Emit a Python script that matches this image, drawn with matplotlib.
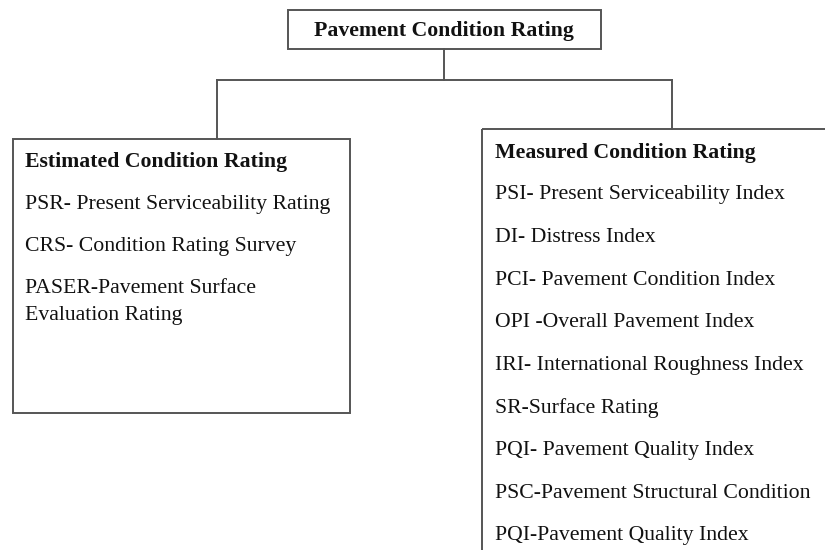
import matplotlib
matplotlib.use("Agg")
import matplotlib.pyplot as plt
from matplotlib.patches import Rectangle

root_label = "Pavement Condition Rating"
left_title = "Estimated Condition Rating"
left_items = ["PSR- Present Serviceability Rating",
              "CRS- Condition Rating Survey",
              "PASER-Pavement Surface\nEvaluation Rating"]
right_title = "Measured Condition Rating"
right_items = ["PSI- Present Serviceability Index",
               "DI- Distress Index",
               "PCI- Pavement Condition Index",
               "OPI -Overall Pavement Index",
               "IRI- International Roughness Index",
               "SR-Surface Rating",
               "PQI- Pavement Quality Index",
               "PSC-Pavement Structural Condition",
               "PQI-Pavement Quality Index"]

FONT = "Liberation Serif"
LC = "#555555"
LW = 1.4
FS = 15.65
TC = "#111111"

fig = plt.figure(figsize=(8.25, 5.5), dpi=100)
ax = fig.add_axes([0, 0, 1, 1])
ax.set_xlim(0, 825)
ax.set_ylim(550, 0)
ax.axis("off")

# root box
ax.add_patch(Rectangle((288, 10), 313, 39, fill=False, ec=LC, lw=LW))
ax.text(444, 31, root_label, ha="center", va="center", fontsize=FS,
        fontweight="bold", family=FONT, color=TC)

# connectors
ax.plot([444, 444], [49, 80], color=LC, lw=LW)
ax.plot([217, 672], [80, 80], color=LC, lw=LW)
ax.plot([217, 217], [80, 139], color=LC, lw=LW)
ax.plot([672, 672], [80, 129], color=LC, lw=LW)

# left box
ax.add_patch(Rectangle((13, 139), 337, 274, fill=False, ec=LC, lw=LW))
ax.text(25, 162, left_title, ha="left", va="center", fontsize=FS,
        fontweight="bold", family=FONT, color=TC)
left_y = [204, 247, 302]
for y, s in zip(left_y, left_items):
    ax.text(25, y, s, ha="left", va="center", fontsize=FS, family=FONT,
            color=TC, linespacing=1.6)

# right box (open to right and bottom edges)
ax.plot([482, 830], [129, 129], color=LC, lw=LW, solid_capstyle="butt")
ax.plot([482, 482], [129, 560], color=LC, lw=LW, solid_capstyle="butt")
ax.text(495, 153, right_title, ha="left", va="center", fontsize=FS,
        fontweight="bold", family=FONT, color=TC)
for i, s in enumerate(right_items):
    ax.text(495, 195 + i * 42.6, s, ha="left", va="center", fontsize=FS,
            family=FONT, color=TC)

fig.savefig("out.png", dpi=100, facecolor="white")
